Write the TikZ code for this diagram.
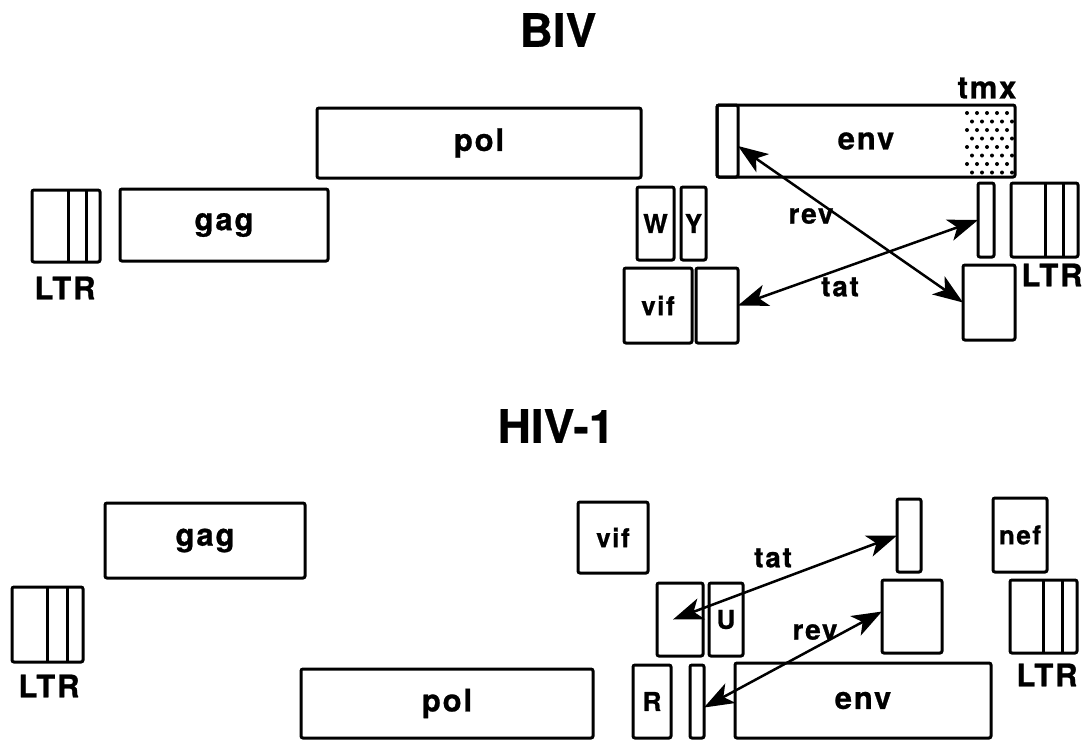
\documentclass[tikz,border=0pt]{standalone}
\usepackage{fontspec}
\setmainfont{TeX Gyre Heros}[BoldFeatures={FakeBold=0.6}]
\newfontfamily\labfam{TeX Gyre Heros}[LetterSpace=6,BoldFeatures={FakeBold=0.8}]
\usetikzlibrary{arrows.meta}
\newcommand{\gene}[7][]{%
  \node[gene,#1,minimum width={(#5)-(#3)},minimum height={(#6)-(#4)}] (#2) at ({((#3)+(#5))/2},{((#4)+(#6))/2}) {#7};}
\begin{document}
\begin{tikzpicture}[x=1pt,y=-1pt,
  gene/.style={draw, line width=3pt, rounded corners=2pt, inner sep=0pt, outer sep=0pt,
    font=\labfam\bfseries\fontsize{31}{33}\selectfont},
  small/.style={font=\labfam\bfseries\fontsize{26}{28}\selectfont},
  lbl/.style={inner sep=0pt, font=\labfam\bfseries\fontsize{31}{33}\selectfont},
  arrlbl/.style={inner sep=0pt, font=\labfam\bfseries\fontsize{28}{30}\selectfont},
  title/.style={inner sep=0pt, font=\bfseries\fontsize{46}{50}\selectfont},
  dbl/.style={line width=2.5pt, {Stealth[length=30pt,width=22pt,inset=8pt]}-{Stealth[length=30pt,width=22pt,inset=8pt]}},
  sep/.style={line width=3pt}
]
\useasboundingbox[fill=white] (0,0) rectangle (1088,740);

% ---------------- BIV ----------------
\node[title] (tBIV) at (558,30) {BIV};
\gene{pol1}{317}{108}{641}{178}{pol}
\gene{env1}{717}{105}{1015}{177}{env}
\gene{revex1}{717}{105}{738}{177}{}
\node[inner sep=0pt, outer sep=0pt, minimum width=53, minimum height=72] (tmxr) at (988.5,141) {};
\foreach \r in {0,...,7} {
  \pgfmathsetmacro{\off}{mod(\r,2)*5}
  \foreach \c in {0,...,4} {
    \fill ({967+10*\c+\off},{113+8.5*\r}) circle (2pt);
  }
}
\node[lbl] (tmxl) at (987,88) {tmx};
\gene{gag1}{120}{189}{328}{261}{gag}
\gene{ltrL1}{32}{190}{100}{262}{}
\draw[sep] ([xshift=36pt]ltrL1.north west) -- ([xshift=36pt]ltrL1.south west);
\draw[sep] ([xshift=54pt]ltrL1.north west) -- ([xshift=54pt]ltrL1.south west);
\node[lbl] (ltrL1t) at (65,288) {LTR};
\gene[small]{W}{637}{187}{674}{260}{W}
\gene[small]{Y}{681}{187}{706}{260}{Y}
\gene[small]{vif1}{624}{268}{692}{343}{vif}
\gene{tat1a}{696}{268}{738}{343}{}
\gene{tat2a}{978}{183}{994}{257}{}
\gene{ltrR1}{1011}{183}{1078}{257}{}
\draw[sep] ([xshift=34pt]ltrR1.north west) -- ([xshift=34pt]ltrR1.south west);
\draw[sep] ([xshift=52pt]ltrR1.north west) -- ([xshift=52pt]ltrR1.south west);
\gene{rev2a}{963}{265}{1015}{340}{}
\node[lbl] (ltrR1t) at (1052,275) {LTR};
\draw[dbl] ([yshift=-5pt]revex1.east) -- (rev2a.west);
\draw[dbl] (tat1a.east) -- (tat2a.west);
\node[arrlbl] (revl1) at (811,216) {rev};
\node[arrlbl] (tatl1) at (840,287) {tat};

% ---------------- HIV-1 ----------------
\node[title] (tHIV) at (556,426) {HIV-1};
\gene{gag2}{105}{503}{305}{578}{gag}
\gene{ltrL2}{12}{587}{83}{662}{}
\draw[sep] ([xshift=35pt]ltrL2.north west) -- ([xshift=35pt]ltrL2.south west);
\draw[sep] ([xshift=55pt]ltrL2.north west) -- ([xshift=55pt]ltrL2.south west);
\node[lbl] (ltrL2t) at (49,686) {LTR};
\gene{pol2}{301}{669}{593}{738}{pol}
\gene[small]{vif2}{578}{502}{648}{573}{vif}
\gene{tat1b}{657}{583}{703}{656}{}
\gene[small]{U}{709}{583}{743}{656}{U}
\gene[small]{R}{633}{665}{671}{738}{R}
\gene{rev1b}{690}{665}{704}{738}{}
\gene{env2}{735}{663}{991}{738}{env}
\gene{tat2b}{897}{499}{921}{572}{}
\gene{rev2b}{882}{580}{942}{653}{}
\gene[small]{nef}{993}{498}{1047}{572}{nef}
\gene{ltrR2}{1010}{580}{1077}{653}{}
\draw[sep] ([xshift=33pt]ltrR2.north west) -- ([xshift=33pt]ltrR2.south west);
\draw[sep] ([xshift=52pt]ltrR2.north west) -- ([xshift=52pt]ltrR2.south west);
\node[lbl] (ltrR2t) at (1047,675) {LTR};
\draw[dbl] ([xshift=-7pt]tat1b.center) -- (tat2b.west);
\draw[dbl] ([yshift=-6pt]rev1b.east) -- ([yshift=5pt]rev2b.west);
\node[arrlbl] (tatl2) at (773,558) {tat};
\node[arrlbl] (revl2) at (815,632) {rev};
\end{tikzpicture}
\end{document}
